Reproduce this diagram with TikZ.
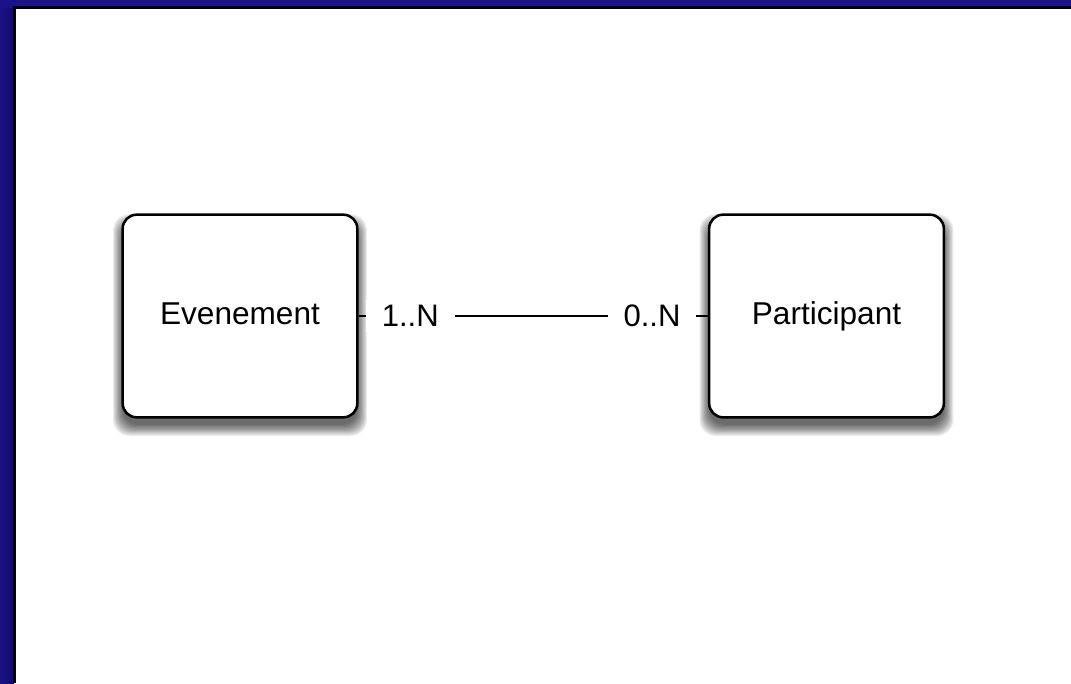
\documentclass[tikz,border=0pt]{standalone}
\usepackage{fontspec}
\setmainfont{Liberation Sans}
\usetikzlibrary{calc}
\definecolor{frameblue}{RGB}{27,18,135}
\definecolor{frameblueD}{RGB}{18,10,105}
\begin{document}
\begin{tikzpicture}[x=0.75pt,y=-0.75pt,
  entity/.style={draw=black, line width=1.9pt, fill=white, rounded corners=10.5pt,
    minimum width=176pt, minimum height=152pt, inner sep=0pt,
    text height=17pt, text depth=5pt,
    font=\fontsize{23.7}{28}\selectfont},
  shadowpart/.style={fill=black, opacity=0.08, draw=none, rounded corners=12pt, inner sep=0pt},
  card/.style={fill=white, inner xsep=11.8pt, inner ysep=4pt, font=\fontsize{23.3}{28}\selectfont},
  link/.style={line width=1.5pt, draw=black}]
\useasboundingbox (0,0) rectangle (1071,683);
\fill[frameblue] (0,0) rectangle (1071,683);
\shade[left color=frameblue, right color=frameblueD] (0,8) rectangle (14,683);
\fill[black] (13,6) rectangle (1071,8.5);
\fill[black] (13,6) rectangle (16,683);
\fill[white] (16,8.5) rectangle (1071,683);
\coordinate (evc) at (240,316);
\coordinate (pac) at (826.5,316);
\foreach \c in {evc,pac}{
  \foreach \i in {0,...,9}{
    \node[shadowpart, minimum width={176pt+\i*1.6pt}, minimum height={150pt+\i*1.8pt}] at ($(\c)+(0,9)$) {};
  }
}
\node[entity] (ev) at ($(evc)+(0,0)$) {Evenement};
\node[entity] (pa) at (pac) {Participant};
\draw[link] (ev.east) -- node[card, pos=0.148] (c1) {1..N} node[card, pos=0.84] (c2) {0..N} (pa.west);
\end{tikzpicture}
\end{document}
